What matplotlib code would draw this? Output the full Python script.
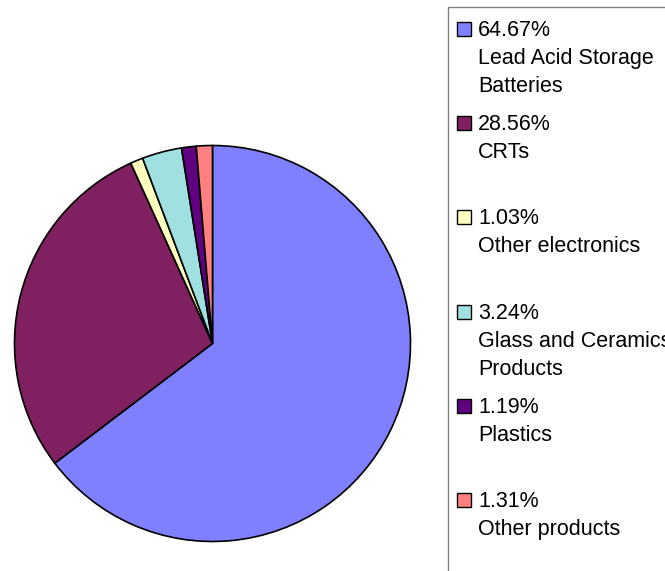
import matplotlib
matplotlib.use("Agg")
import matplotlib.pyplot as plt
from matplotlib.patches import Rectangle

# Data
categories = ["Lead Acid Storage\nBatteries", "CRTs", "Other electronics",
              "Glass and Ceramics\nProducts", "Plastics", "Other products"]
values = [64.67, 28.56, 1.03, 3.24, 1.19, 1.31]
pct_labels = ["64.67%", "28.56%", "1.03%", "3.24%", "1.19%", "1.31%"]
colors = ["#8080FF", "#802060", "#FFFFC0", "#A0E0E0", "#600080", "#FF8080"]

W, H = 665, 571
fig = plt.figure(figsize=(W / 100, H / 100), dpi=100)
plt.rcParams['font.family'] = ['Liberation Sans', 'DejaVu Sans']

def fx(x):
    return x / W

def fy(y):
    return 1 - y / H

# Pie
cx, cy, r = 212.5, 343.5, 198
ax = fig.add_axes([fx(cx - r), fy(cy + r), 2 * r / W, 2 * r / H])
ax.pie(values, colors=colors, startangle=90, counterclock=False,
       wedgeprops=dict(edgecolor="black", linewidth=1.2), radius=1)
ax.set_xlim(-1.0, 1.0)
ax.set_ylim(-1.0, 1.0)
ax.set_aspect("auto")
ax.axis("off")

# Legend box (extends past right/bottom edges)
fig.add_artist(Rectangle((fx(448), fy(700)), fx(800) - fx(448), fy(7) - fy(700),
                         transform=fig.transFigure, facecolor="white",
                         edgecolor="#808080", linewidth=1.0, zorder=0))

base0 = 36
step = 94.2
line_h = 28
fs = 15.5
for i, (pct, cat, col) in enumerate(zip(pct_labels, categories, colors)):
    b = base0 + i * step
    fig.add_artist(Rectangle((fx(457), fy(b)), fx(471) - fx(457), fy(b - 14) - fy(b),
                             transform=fig.transFigure, facecolor=col,
                             edgecolor="black", linewidth=1.0, zorder=2))
    lines = [pct] + cat.split("\n")
    for j, ln in enumerate(lines):
        fig.text(fx(478), fy(b + j * line_h), ln, fontsize=fs, va="baseline",
                 ha="left", color="black")

fig.savefig("out.png", dpi=100)
